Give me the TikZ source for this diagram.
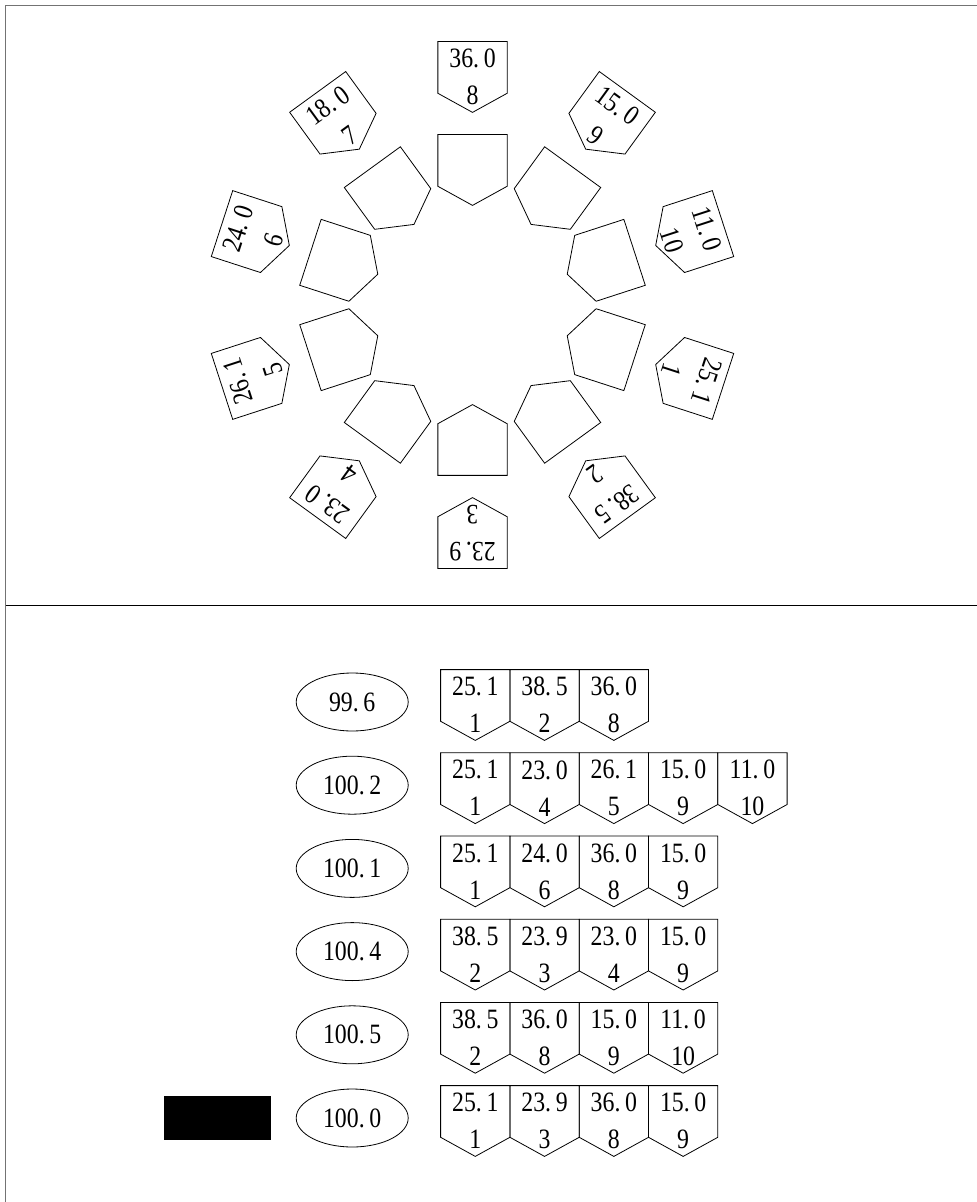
\documentclass[tikz,border=0pt]{standalone}
\usepackage{fontspec}
\setmainfont{Liberation Serif}[FakeStretch=0.85]
\usetikzlibrary{positioning,calc,shapes.geometric}

\newcommand{\housepath}[1]{%
  \draw (#1.north west) -- (#1.north east)
    -- ($(#1.south east)!0.27!(#1.north east)$) -- (#1.south)
    -- ($(#1.south west)!0.27!(#1.north west)$) -- cycle;}

\begin{document}
\begin{tikzpicture}[x=0.5pt, y=0.5pt,
  every node/.style={font=\fontsize{14}{18.5}\selectfont},
  house/.style={rectangle, minimum width=34.25pt, minimum height=35pt,
                inner sep=0pt, align=center},
  oval/.style={ellipse, draw, minimum width=56pt, minimum height=29pt,
               inner sep=0pt, yshift=1.5pt},
  frame/.style={draw=black!55, line width=0.6pt}
]
  \useasboundingbox (0,0) rectangle (977,-1202);
  \draw[frame] (977,-5.7) -- (5.7,-5.7) -- (5.7,-1202);
  \draw[line width=0.6pt] (5.7,-605.7) -- (977,-605.7);

  % ring of blocks
  \coordinate (c) at (472.5,-305);
  \foreach \k/\v [evaluate=\k as \a using 18-36*\k] in
      {1/25.\,1, 2/38.\,5, 3/23.\,9, 4/23.\,0, 5/26.\,1,
       6/24.\,0, 7/18.\,0, 8/36.\,0, 9/15.\,0, 10/11.\,0} {
    \node[house, rotate=\a-90] (o\k) at ($(c)+(\a:228)$) {\v\\\k};
    \node[house, rotate=\a-90] (i\k) at ($(c)+(\a:135)$) {};
    \housepath{o\k}
    \housepath{i\k}
  }

  % combinations
  \node[house] (r1a) at (475.25,-705) {25.\,1\\1};
  \node[house, right=0pt of r1a] (r1b) {38.\,5\\2};
  \node[house, right=0pt of r1b] (r1c) {36.\,0\\8};
  \node[oval, left=16pt of r1a] (s1) {99.\,6};

  \node[house] (r2a) at (475.25,-788.2) {25.\,1\\1};
  \node[house, right=0pt of r2a] (r2b) {23.\,0\\4};
  \node[house, right=0pt of r2b] (r2c) {26.\,1\\5};
  \node[house, right=0pt of r2c] (r2d) {15.\,0\\9};
  \node[house, right=0pt of r2d] (r2e) {11.\,0\\10};
  \node[oval, left=16pt of r2a] (s2) {100.\,2};

  \node[house] (r3a) at (475.25,-871.4) {25.\,1\\1};
  \node[house, right=0pt of r3a] (r3b) {24.\,0\\6};
  \node[house, right=0pt of r3b] (r3c) {36.\,0\\8};
  \node[house, right=0pt of r3c] (r3d) {15.\,0\\9};
  \node[oval, left=16pt of r3a] (s3) {100.\,1};

  \node[house] (r4a) at (475.25,-954.6) {38.\,5\\2};
  \node[house, right=0pt of r4a] (r4b) {23.\,9\\3};
  \node[house, right=0pt of r4b] (r4c) {23.\,0\\4};
  \node[house, right=0pt of r4c] (r4d) {15.\,0\\9};
  \node[oval, left=16pt of r4a] (s4) {100.\,4};

  \node[house] (r5a) at (475.25,-1037.8) {38.\,5\\2};
  \node[house, right=0pt of r5a] (r5b) {36.\,0\\8};
  \node[house, right=0pt of r5b] (r5c) {15.\,0\\9};
  \node[house, right=0pt of r5c] (r5d) {11.\,0\\10};
  \node[oval, left=16pt of r5a] (s5) {100.\,5};

  \node[house] (r6a) at (475.25,-1121) {25.\,1\\1};
  \node[house, right=0pt of r6a] (r6b) {23.\,9\\3};
  \node[house, right=0pt of r6b] (r6c) {36.\,0\\8};
  \node[house, right=0pt of r6c] (r6d) {15.\,0\\9};
  \node[oval, left=16pt of r6a] (s6) {100.\,0};
  \node[fill=black, minimum width=53.5pt, minimum height=22pt, inner sep=0pt,
        left=12pt of s6] (mask) {};

  \foreach \n in {r1a,r1b,r1c,r2a,r2b,r2c,r2d,r2e,r3a,r3b,r3c,r3d,
                  r4a,r4b,r4c,r4d,r5a,r5b,r5c,r5d,r6a,r6b,r6c,r6d}
    {\housepath{\n}}
\end{tikzpicture}
\end{document}
